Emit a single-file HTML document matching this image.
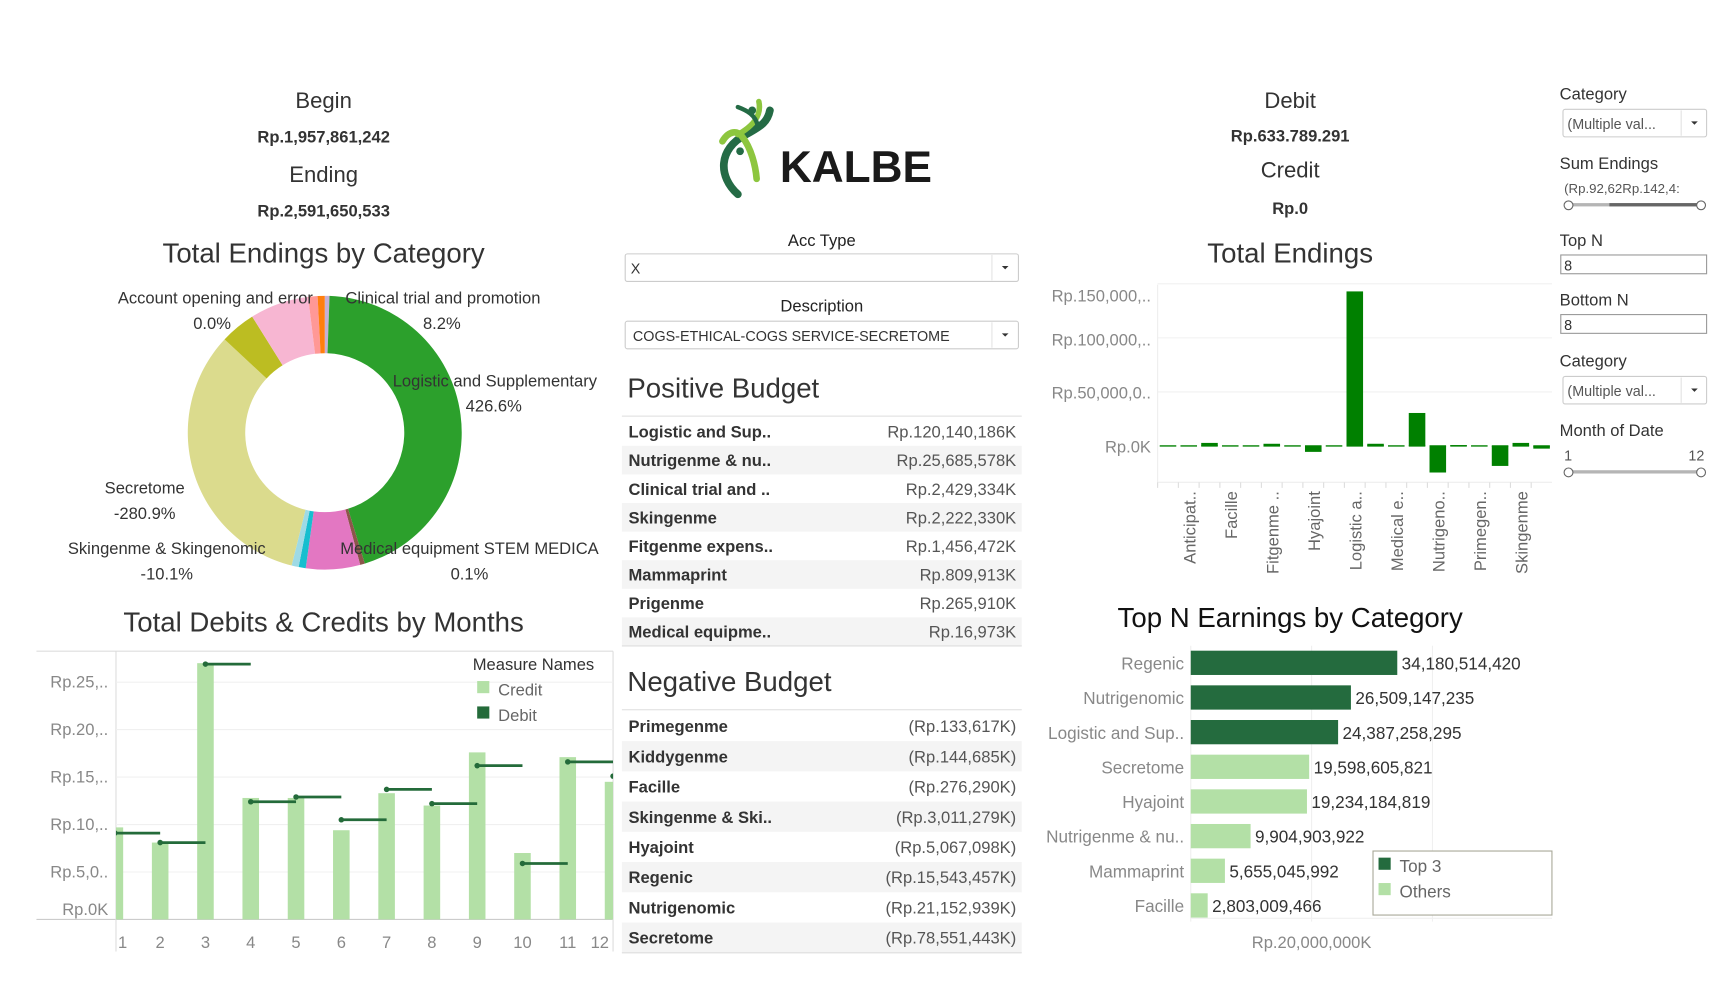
<!DOCTYPE html>
<html><head><meta charset="utf-8"><style>
html,body{margin:0;padding:0;background:#fff;}
svg{display:block;font-family:"Liberation Sans",sans-serif;}
</style></head><body>
<svg id="root" width="1732" height="989" viewBox="0 0 1568 896" preserveAspectRatio="none">
<g text-anchor="middle" fill="#333">
<text x="293" y="98" font-size="20">Begin</text>
<text x="293" y="129" font-size="15" font-weight="bold">Rp.1,957,861,242</text>
<text x="293" y="165" font-size="20">Ending</text>
<text x="293" y="196" font-size="15" font-weight="bold">Rp.2,591,650,533</text>
</g>
<g text-anchor="middle" fill="#333">
<text x="1168" y="98" font-size="20">Debit</text>
<text x="1168" y="128" font-size="15" font-weight="bold">Rp.633.789.291</text>
<text x="1168" y="161" font-size="20">Credit</text>
<text x="1168" y="194" font-size="15" font-weight="bold">Rp.0</text>
</g>
<g>
<path d="M668,176 C650,160 650,135 675,122 C690,114 695,110 697,100" stroke="#246b45" stroke-width="7" fill="none" stroke-linecap="round"/>
<path d="M654,128 C660,118 668,118 672,124 C680,134 684,150 685,162" stroke="#8dc63f" stroke-width="6" fill="none" stroke-linecap="round"/>
<path d="M687,92 C690,106 680,115 668,122" stroke="#8dc63f" stroke-width="5" fill="none" stroke-linecap="round"/>
<path d="M668,97 C676,100 684,104 686,114" stroke="#246b45" stroke-width="4" fill="none" stroke-linecap="round"/>
<circle cx="681" cy="100" r="3.5" fill="#246b45"/>
<circle cx="670" cy="137" r="3.5" fill="#246b45"/>
<text x="706" y="165" font-size="40" font-weight="bold" fill="#1a1a1a">KALBE</text>
</g>
<g>
<text x="744" y="223" font-size="15" text-anchor="middle" fill="#222">Acc Type</text>
<rect x="566" y="230" width="356" height="25" rx="2" fill="#fff" stroke="#ccc"/>
<line x1="898" y1="231" x2="898" y2="254" stroke="#e3e3e3"/>
<text x="571" y="248" font-size="13" fill="#333">X</text>
<path d="M907,241 l6,0 l-3,3z" fill="#333"/>
</g>
<g>
<text x="744" y="282" font-size="15" text-anchor="middle" fill="#222">Description</text>
<rect x="566" y="291" width="356" height="25" rx="2" fill="#fff" stroke="#ccc"/>
<line x1="898" y1="292" x2="898" y2="315" stroke="#e3e3e3"/>
<text x="573" y="309" font-size="13" fill="#333">COGS-ETHICAL-COGS SERVICE-SECRETOME</text>
<path d="M907,302 l6,0 l-3,3z" fill="#333"/>
</g>
<text x="568" y="360" font-size="25" fill="#333">Positive Budget</text>
<g id="posTable"></g>
<text x="568" y="626" font-size="25" fill="#333">Negative Budget</text>
<g id="negTable"></g>
<text x="293" y="238" font-size="25" text-anchor="middle" fill="#333">Total Endings by Category</text>
<g id="donut"></g>
<g font-size="15" fill="#333" text-anchor="middle">
<text x="195" y="275">Account opening and error</text><text x="192" y="298">0.0%</text>
<text x="401" y="275">Clinical trial and promotion</text><text x="400" y="298">8.2%</text>
<text x="448" y="350">Logistic and Supplementary</text><text x="447" y="373">426.6%</text>
<text x="131" y="447">Secretome</text><text x="131" y="470">-280.9%</text>
<text x="151" y="502">Skingenme &amp; Skingenomic</text><text x="151" y="525">-10.1%</text>
<text x="425" y="502">Medical equipment STEM MEDICA</text><text x="425" y="525">0.1%</text>
</g>
<text x="293" y="572" font-size="25" text-anchor="middle" fill="#333">Total Debits &amp; Credits by Months</text>
<g id="months"></g>
<text x="1168" y="238" font-size="25" text-anchor="middle" fill="#333">Total Endings</text>
<g id="endings"></g>
<text x="1168" y="568" font-size="25" text-anchor="middle" fill="#111">Top N Earnings by Category</text>
<g id="topn"></g>
<g fill="#333">
<text x="1412" y="90" font-size="15">Category</text>
<g><rect x="1415" y="99" width="130" height="25" rx="2" fill="#fff" stroke="#ccc"/><line x1="1522" y1="100" x2="1522" y2="123" stroke="#e3e3e3"/><text x="1419" y="117" font-size="13" fill="#555">(Multiple val...</text><path d="M1531,110 l6,0 l-3,3z" fill="#333"/></g>
<text x="1412" y="153" font-size="15">Sum Endings</text>
<text x="1416" y="175" font-size="12" fill="#555">(Rp.92,62Rp.142,4:</text>
<g><rect x="1420" y="184" width="120" height="3" fill="#b5b5b5"/><rect x="1457" y="184" width="83" height="3" fill="#666"/><circle cx="1420" cy="186" r="4" fill="#fff" stroke="#666"/><circle cx="1540" cy="186" r="4" fill="#fff" stroke="#666"/></g>
<text x="1412" y="223" font-size="15">Top N</text>
<g><rect x="1413" y="231" width="132" height="17" fill="#fff" stroke="#999"/><text x="1416" y="245" font-size="13">8</text></g>
<text x="1412" y="277" font-size="15">Bottom N</text>
<g><rect x="1413" y="285" width="132" height="17" fill="#fff" stroke="#999"/><text x="1416" y="299" font-size="13">8</text></g>
<text x="1412" y="332" font-size="15">Category</text>
<g><rect x="1415" y="341" width="130" height="25" rx="2" fill="#fff" stroke="#ccc"/><line x1="1522" y1="342" x2="1522" y2="365" stroke="#e3e3e3"/><text x="1419" y="359" font-size="13" fill="#555">(Multiple val...</text><path d="M1531,352 l6,0 l-3,3z" fill="#333"/></g>
<text x="1412" y="395" font-size="15">Month of Date</text>
<text x="1416" y="417" font-size="13" fill="#555">1</text><text x="1543" y="417" font-size="13" text-anchor="end" fill="#555">12</text>
<g><rect x="1420" y="426" width="120" height="3" fill="#b5b5b5"/><circle cx="1420" cy="428" r="4" fill="#fff" stroke="#666"/><circle cx="1540" cy="428" r="4" fill="#fff" stroke="#666"/></g>
</g>
</svg>
<script>
const posNames=["Logistic and Sup..","Nutrigenme & nu..","Clinical trial and ..","Skingenme","Fitgenme expens..","Mammaprint","Prigenme","Medical equipme.."];
const posValues=["Rp.120,140,186K","Rp.25,685,578K","Rp.2,429,334K","Rp.2,222,330K","Rp.1,456,472K","Rp.809,913K","Rp.265,910K","Rp.16,973K"];
const negNames=["Primegenme","Kiddygenme","Facille","Skingenme & Ski..","Hyajoint","Regenic","Nutrigenomic","Secretome"];
const negValues=["(Rp.133,617K)","(Rp.144,685K)","(Rp.276,290K)","(Rp.3,011,279K)","(Rp.5,067,098K)","(Rp.15,543,457K)","(Rp.21,152,939K)","(Rp.78,551,443K)"];

const sliceNames=["Clinical trial and promotion","Logistic and Supplementary","Medical equipment STEM MEDICA","Medical equipment","Skingenme & Skingenomic","Skingenme","Secretome","Olive category","Pink category","Salmon category","Account opening and error"];
const sliceValues=[2,161,2,23,3,3,119,15,25,4,3];
const sliceColors=["#c5b0d5","#2ca02c","#8c564b","#e377c2","#17becf","#9edae5","#dbdb8d","#bcbd22","#f7b6d2","#ff9896","#ff7f0e"];

const months=["1","2","3","4","5","6","7","8","9","10","11","12"];
const credits=[9.7,8.1,27.0,12.8,12.8,9.4,13.3,12.0,17.6,7.0,17.1,14.5];
const debits=[9.1,8.1,26.9,12.4,12.9,10.5,13.7,12.2,16.2,5.9,16.6,15.1];
const monthTicks=[0,5,10,15,20,25];
const monthTickLabels=["Rp.0K","Rp.5,0..","Rp.10,..","Rp.15,..","Rp.20,..","Rp.25,.."];

const endCats=["Account open..","Anticipat..","Clinical tr..","Facille","Fitgenme e..","Fitgenme ..","Gift..","Hyajoint","Kiddygenme","Logistic a..","Mammaprint","Medical e..","Medical eq..","Nutrigeno..","Nutrigenme..","Primegen..","Prigenme","Skingenme","Secretome"];
const endValues=[0,0,2.8,0,0,2,0,-5.5,0,143,2,0,30.5,-24.6,0.8,0,-18.5,2.8,-2.5];
const endTicks=[0,50,100,150];
const endTickLabels=["Rp.0K","Rp.50,000,0..","Rp.100,000,..","Rp.150,000,.."];

const topCats=["Regenic","Nutrigenomic","Logistic and Sup..","Secretome","Hyajoint","Nutrigenme & nu..","Mammaprint","Facille"];
const topValues=[34180514420,26509147235,24387258295,19598605821,19234184819,9904903922,5655045992,2803009466];
const topLabels=["34,180,514,420","26,509,147,235","24,387,258,295","19,598,605,821","19,234,184,819","9,904,903,922","5,655,045,992","2,803,009,466"];

const NS="http://www.w3.org/2000/svg";
function mk(parent,tag,attrs,txt){const e=document.createElementNS(NS,tag);for(const k in attrs)e.setAttribute(k,attrs[k]);if(txt!==undefined)e.textContent=txt;parent.appendChild(e);return e;}

function table(gid,names,vals,top,rowH){
  const g=document.getElementById(gid);
  mk(g,"line",{x1:563,x2:925,y1:top-1,y2:top-1,stroke:"#ddd"});
  names.forEach((n,i)=>{
    const y=top+i*rowH;
    if(i%2===1){const r=mk(g,"rect",{x:563,y:y,width:362,height:rowH,fill:"#f4f4f4"});
      
      }
    const t=mk(g,"text",{x:569,y:y+rowH/2+5.5,"font-size":15,"font-weight":"bold",fill:"#333"},n);
    
    
    const v=mk(g,"text",{x:920,y:y+rowH/2+5.5,"font-size":15,fill:"#555","text-anchor":"end"},vals[i]);
    
    
  });
  mk(g,"line",{x1:563,x2:925,y1:top+names.length*rowH,y2:top+names.length*rowH,stroke:"#ddd"});
}
table("posTable",posNames,posValues,378,25.9);
table("negTable",negNames,negValues,644,27.4);

(function(){
  const g=document.getElementById("donut");
  const cx=294,cy=392,R=124,r=72;
  const total=sliceValues.reduce((a,b)=>a+b,0);
  let a0=0;
  function pt(rad,ang){const t=(ang-90)*Math.PI/180;return [cx+rad*Math.cos(t),cy+rad*Math.sin(t)];}
  sliceValues.forEach((v,i)=>{
    const a1=a0+v/total*360;
    const p1=pt(R,a0),p2=pt(R,a1),p3=pt(r,a1),p4=pt(r,a0);
    const large=(a1-a0)>180?1:0;
    const p=mk(g,"path",{d:`M${p1[0]},${p1[1]} A${R},${R} 0 ${large} 1 ${p2[0]},${p2[1]} L${p3[0]},${p3[1]} A${r},${r} 0 ${large} 0 ${p4[0]},${p4[1]} Z`,fill:sliceColors[i]});
    
    
    a0=a1;
  });
})();

(function(){
  const g=document.getElementById("months");
  const x0=105,x1=555,yTop=590,yBase=833;
  const y=v=>yBase-v*8.6;
  const xc=i=>104+i*41;
  mk(g,"line",{x1:33,x2:555,y1:yTop,y2:yTop,stroke:"#ddd"});
  mk(g,"line",{x1:33,x2:555,y1:yBase,y2:yBase,stroke:"#ccc"});
  mk(g,"line",{x1:x0,x2:x0,y1:yTop,y2:862,stroke:"#ddd"});
  mk(g,"line",{x1:x1,x2:x1,y1:yTop,y2:862,stroke:"#ddd"});
  monthTicks.forEach((t,i)=>{
    if(t>0)mk(g,"line",{x1:x0,x2:x1,y1:y(t),y2:y(t),stroke:"#f0f0f0"});
    const tl=mk(g,"text",{x:98,y:Math.min(y(t)+5,829),"font-size":15,fill:"#888","text-anchor":"end"},monthTickLabels[i]);
    
    
  });
  mk(g,"defs",{}).innerHTML='<clipPath id="mclip"><rect x="105" y="585" width="450" height="250"/></clipPath>';
  const plot=mk(g,"g",{"clip-path":"url(#mclip)"});
  credits.forEach((v,i)=>{
    const b=mk(plot,"rect",{x:xc(i)-7.5,y:y(v),width:15,height:yBase-y(v),fill:"#b3e0a6"});
    
    
  });
  debits.forEach((v,i)=>{
    const l=mk(plot,"line",{x1:xc(i),x2:xc(i)+41,y1:y(v),y2:y(v),stroke:"#246b3a","stroke-width":2.5});
    
    
    mk(plot,"circle",{cx:xc(i),cy:y(v),r:2.5,fill:"#246b3a"});
  });
  months.forEach((m,i)=>{
    const t=mk(g,"text",{x:i===11?543:Math.max(xc(i),111),y:859,"font-size":15,fill:"#888","text-anchor":"middle"},m);
    
    
  });
  mk(g,"text",{x:428,y:607,"font-size":15,fill:"#333"},"Measure Names");
  mk(g,"rect",{x:432,y:617,width:11,height:11,fill:"#b3e0a6"});
  mk(g,"text",{x:451,y:630,"font-size":15,fill:"#666"},"Credit");
  mk(g,"rect",{x:432,y:640,width:11,height:11,fill:"#246b3a"});
  mk(g,"text",{x:451,y:653,"font-size":15,fill:"#666"},"Debit");
})();

(function(){
  const g=document.getElementById("endings");
  const x0=1048,x1=1405,yZero=404,sc=0.979;
  const y=v=>yZero-v*sc;
  const slot=(x1-x0)/endCats.length;
  mk(g,"line",{x1:x0,x2:x0,y1:258,y2:440,stroke:"#eee"});
  mk(g,"line",{x1:x0,x2:x1,y1:437,y2:437,stroke:"#eee"});
  endTicks.forEach((t,i)=>{
    if(t>0)mk(g,"line",{x1:x0,x2:x1,y1:y(t),y2:y(t),stroke:"#f0f0f0"});
    const tl=mk(g,"text",{x:1042,y:y(t)+(t===150?16:t===100?7:6),"font-size":15,fill:"#888","text-anchor":"end"},endTickLabels[i]);
    
    
  });
  endCats.forEach((c,i)=>{
    const cx=x0+slot*(i+0.5);
    mk(g,"line",{x1:x0+slot*i,x2:x0+slot*i,y1:437,y2:442,stroke:"#ddd"});
    mk(g,"line",{x1:cx-7.5,x2:cx+7.5,y1:yZero,y2:yZero,stroke:"#008000","stroke-width":1.2});
    const v=endValues[i];
    const top=Math.min(y(v),yZero),h=Math.abs(y(v)-yZero);
    const b=mk(g,"rect",{x:cx-7.5,y:top,width:15,height:h,fill:"#008000"});
    
    
    if(i%2===1){
      const t=mk(g,"text",{transform:`translate(${cx+6},445) rotate(-90)`,"font-size":15,fill:"#666","text-anchor":"end"},c);
      
      
    }
  });
})();

(function(){
  const g=document.getElementById("topn");
  const x0=1078,sc=5.47e-9;
  const x=v=>x0+v*sc;
  mk(g,"line",{x1:x0,x2:x0,y1:585,y2:835,stroke:"#eee"});
  mk(g,"line",{x1:x(20e9),x2:x(20e9),y1:585,y2:835,stroke:"#f0f0f0"});
  mk(g,"line",{x1:x(40e9),x2:x(40e9),y1:585,y2:835,stroke:"#f0f0f0"});
  mk(g,"line",{x1:x0,x2:1405,y1:832,y2:832,stroke:"#f0f0f0"});
  mk(g,"text",{x:x(20e9),y:859,"font-size":15,fill:"#888","text-anchor":"middle"},"Rp.20,000,000K");
  topCats.forEach((c,i)=>{
    const yc=600.5+i*31.4;
    const b=mk(g,"rect",{x:x0,y:yc-11,width:x(topValues[i])-x0,height:22,fill:i<3?"#246b3e":"#b3e0a6"});
    
    
    const l=mk(g,"text",{x:1072,y:yc+6,"font-size":15.5,fill:"#888","text-anchor":"end"},c);
    
    
    const v=mk(g,"text",{x:x(topValues[i])+4,y:yc+6,"font-size":15.5,fill:"#333"},topLabels[i]);
    
    
  });
  const lg=mk(g,"g",{});
  
  
  mk(lg,"rect",{x:1243,y:771,width:162,height:58,fill:"#fff",stroke:"#a8a898"});
  mk(lg,"rect",{x:1248,y:777,width:11,height:11,fill:"#246b3e"});
  mk(lg,"text",{x:1267,y:790,"font-size":15.5,fill:"#666"},"Top 3");
  mk(lg,"rect",{x:1248,y:800,width:11,height:11,fill:"#b3e0a6"});
  mk(lg,"text",{x:1267,y:813,"font-size":15.5,fill:"#666"},"Others");
})();
</script>
</body></html>
